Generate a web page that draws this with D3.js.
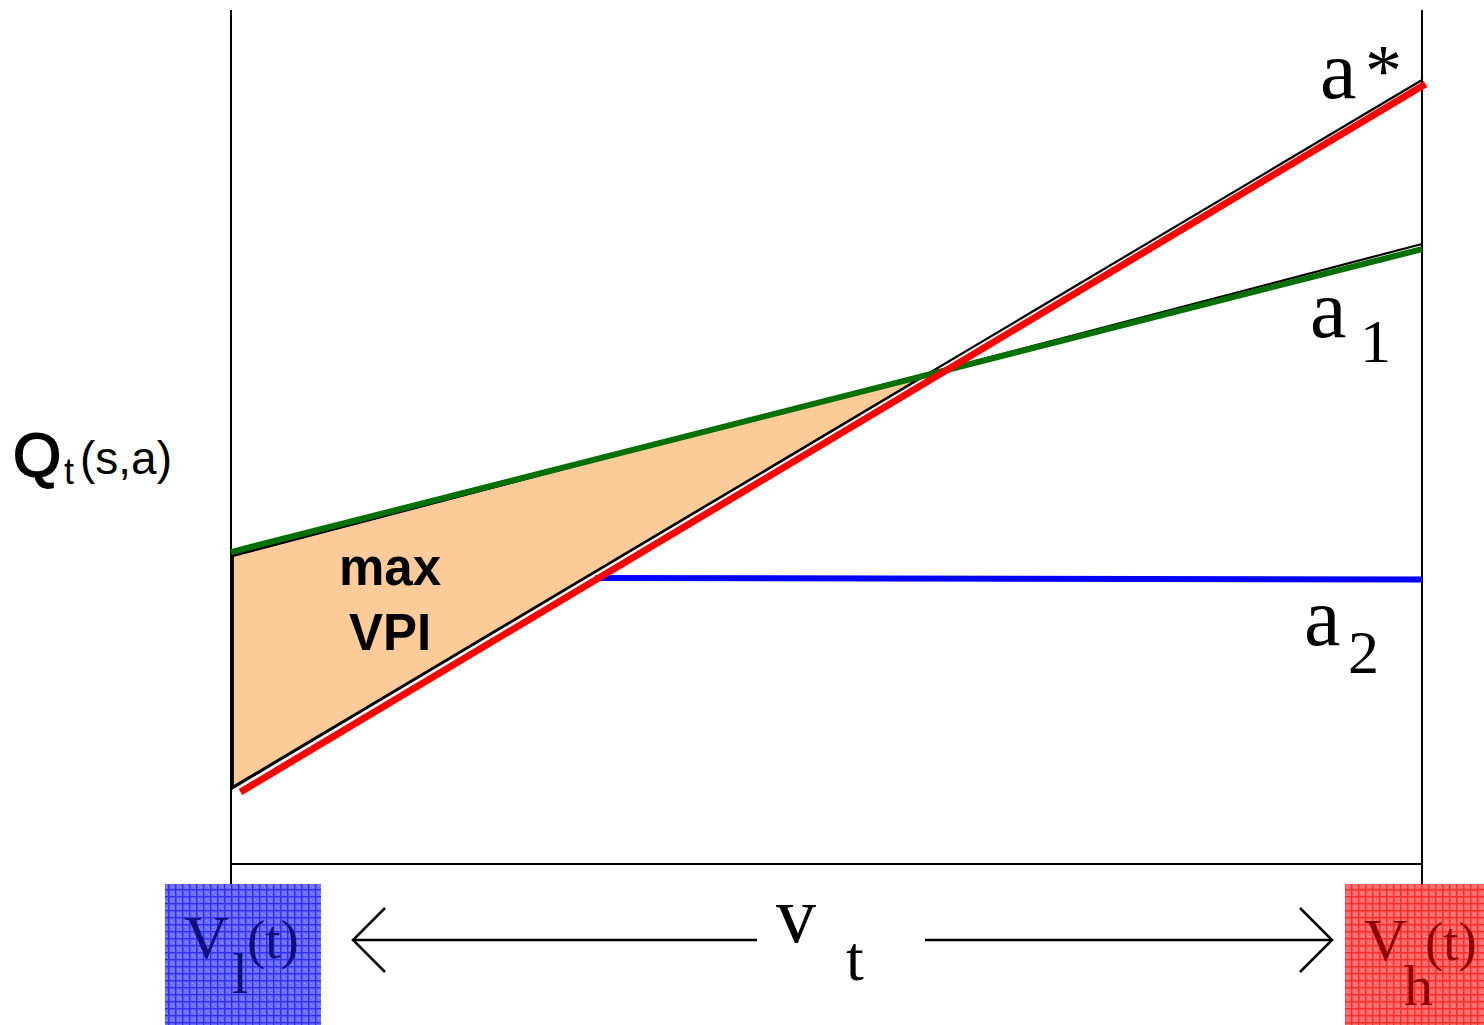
<!DOCTYPE html>
<html>
<head>
<meta charset="utf-8">
<script src="https://cdn.jsdelivr.net/npm/d3@7"></script>
<style>
  html, body { margin: 0; padding: 0; background: #fff; }
  svg { display: block; }
  .serif { font-family: "Liberation Serif", "Times New Roman", serif; }
  .sans { font-family: "Liberation Sans", Arial, Helvetica, sans-serif; }
</style>
</head>
<body>
<svg id="chart" width="1484" height="1025"></svg>
<script>
// Value of information: Q-values of three actions as the state value v_t
// ranges from its lower bound V_l(t) to its upper bound V_h(t).

// Series (x in percent of the v_t range, y in percent of the Q range)
const aStarX = [0.8, 100.3];
const aStarY = [8.43, 91.33];
const a1X = [0, 100];
const a1Y = [36.53, 72.0];
const a2X = [30.6, 100];
const a2Y = [33.5, 33.3];

// Outline edges bounding the max-VPI region
const aStarEdgeX = [0, 100];
const aStarEdgeY = [8.9, 91.8];
const a1EdgeX = [0, 100];
const a1EdgeY = [36.07, 72.6];

const W = 1484, H = 1025;
const plotLeft = 231, plotRight = 1422, plotTop = 10, plotBase = 864;

const x = d3.scaleLinear().domain([0, 100]).range([plotLeft, plotRight]);
const y = d3.scaleLinear().domain([0, 100]).range([plotBase, plotTop]);

const svg = d3.select("#chart");
svg.append("rect").attr("width", W).attr("height", H).attr("fill", "#fff");

const defs = svg.append("defs");
function gridPattern(id, bg, ln, dot) {
  const p = defs.append("pattern").attr("id", id)
    .attr("patternUnits", "userSpaceOnUse").attr("width", 7).attr("height", 7);
  p.append("rect").attr("width", 7).attr("height", 7).attr("fill", bg);
  p.append("rect").attr("x", 0).attr("y", 0).attr("width", 7).attr("height", 1.4).attr("fill", ln);
  p.append("rect").attr("x", 0).attr("y", 0).attr("width", 1.4).attr("height", 7).attr("fill", ln);
  p.append("rect").attr("x", 3).attr("y", 3).attr("width", 1).attr("height", 1).attr("fill", dot);
  p.append("rect").attr("x", 5).attr("y", 5).attr("width", 1).attr("height", 1).attr("fill", dot);
}
gridPattern("gridBlue", "#6f6fff", "#2f2ff5", "#9c9cff");
gridPattern("gridRed", "#ff6a6a", "#ff2a2a", "#ff9a9a");

const line = d3.line().x(d => x(d[0])).y(d => y(d[1]));
const pts = (xs, ys) => xs.map((v, i) => [v, ys[i]]);

// Crossing point of the two outline edges
function lineAt(xs, ys, v) {
  const t = (v - xs[0]) / (xs[1] - xs[0]);
  return ys[0] + t * (ys[1] - ys[0]);
}
const sS = (aStarEdgeY[1] - aStarEdgeY[0]) / (aStarEdgeX[1] - aStarEdgeX[0]);
const s1 = (a1EdgeY[1] - a1EdgeY[0]) / (a1EdgeX[1] - a1EdgeX[0]);
const cx = (a1EdgeY[0] - aStarEdgeY[0]) / (sS - s1);
const cy = lineAt(a1EdgeX, a1EdgeY, cx);

// Shaded max-VPI region
const region = [[0.15, a1EdgeY[0]], [cx, cy], [0.15, aStarEdgeY[0]]];
svg.append("path")
  .attr("d", line(region) + "Z")
  .attr("fill", "#fccb99")
  .attr("stroke", "#000")
  .attr("stroke-width", 2.2)
  .attr("stroke-linejoin", "miter");

// Axes frame
svg.append("line").attr("x1", x(0)).attr("x2", x(0)).attr("y1", plotTop).attr("y2", 885)
  .attr("stroke", "#000").attr("stroke-width", 2);
svg.append("line").attr("x1", x(100)).attr("x2", x(100)).attr("y1", plotTop).attr("y2", 885)
  .attr("stroke", "#000").attr("stroke-width", 2);
svg.append("line").attr("x1", x(0)).attr("x2", x(100)).attr("y1", y(0)).attr("y2", y(0))
  .attr("stroke", "#000").attr("stroke-width", 2);

// Thin black edges along a* and a1
svg.append("path").attr("d", line(pts(aStarEdgeX, aStarEdgeY)))
  .attr("stroke", "#000").attr("stroke-width", 2.2).attr("fill", "none");
svg.append("path").attr("d", line(pts(a1EdgeX, a1EdgeY)))
  .attr("stroke", "#000").attr("stroke-width", 2.2).attr("fill", "none");

// Action value lines
svg.append("path").attr("d", line(pts(a2X, a2Y)))
  .attr("stroke", "#0000ff").attr("stroke-width", 6).attr("fill", "none");
svg.append("path").attr("d", line(pts(a1X, a1Y)))
  .attr("stroke", "#007000").attr("stroke-width", 6).attr("fill", "none");
svg.append("path").attr("d", line(pts(aStarX, aStarY)))
  .attr("stroke", "#ff0000").attr("stroke-width", 7).attr("fill", "none");

// Text helper
function label(parts) {
  parts.forEach(p => {
    svg.append("text").attr("class", p.cls || "serif")
      .attr("x", p.x).attr("y", p.y)
      .attr("font-size", p.size)
      .attr("font-weight", p.weight || "normal")
      .attr("fill", p.fill || "#000")
      .attr("stroke", p.stroke || "none")
      .attr("stroke-width", p.sw || 0)
      .text(p.t);
  });
}

// Line labels
label([
  { t: "a", x: 1320, y: 98, size: 82 },
  { t: "*", x: 1365, y: 96, size: 74 },
  { t: "a", x: 1310, y: 337, size: 82 },
  { t: "1", x: 1360, y: 362, size: 62 },
  { t: "a", x: 1304, y: 645, size: 82 },
  { t: "2", x: 1348, y: 673, size: 62 }
]);

// Y axis title
label([
  { t: "Q", x: 13, y: 476, size: 62, cls: "sans", stroke: "#000", sw: 1.8 },
  { t: "t", x: 64, y: 484, size: 36, cls: "sans" },
  { t: "(s,a)", x: 80, y: 474, size: 46, cls: "sans" }
]);

// Region label
svg.append("text").attr("class", "sans").attr("x", 390).attr("y", 585)
  .attr("text-anchor", "middle").attr("font-size", 51).attr("font-weight", "bold").text("max");
svg.append("text").attr("class", "sans").attr("x", 390).attr("y", 650)
  .attr("text-anchor", "middle").attr("font-size", 51).attr("font-weight", "bold").text("VPI");

// Bound boxes
svg.append("rect").attr("x", 165).attr("y", 884).attr("width", 156).attr("height", 141)
  .attr("fill", "url(#gridBlue)");
svg.append("rect").attr("x", 1345).attr("y", 884).attr("width", 139).attr("height", 141)
  .attr("fill", "url(#gridRed)");

label([
  { t: "V", x: 184, y: 958, size: 62, fill: "#10107a" },
  { t: "l", x: 232, y: 993, size: 58, fill: "#10107a" },
  { t: "(t)", x: 247, y: 958, size: 55, fill: "#10107a" },
  { t: "V", x: 1364, y: 960, size: 60, fill: "#8e0000" },
  { t: "h", x: 1404, y: 1005, size: 58, fill: "#8e0000" },
  { t: "(t)", x: 1425, y: 960, size: 55, fill: "#8e0000" }
]);

// v_t range arrow
const ay = 940;
const arrow = svg.append("g").attr("stroke", "#000").attr("stroke-width", 2.5).attr("fill", "none");
arrow.append("line").attr("x1", 353).attr("x2", 757).attr("y1", ay).attr("y2", ay);
arrow.append("line").attr("x1", 925).attr("x2", 1332).attr("y1", ay).attr("y2", ay);
arrow.append("path").attr("d", `M385,908 L353,${ay} L385,972`);
arrow.append("path").attr("d", `M1300,908 L1332,${ay} L1300,972`);
label([
  { t: "v", x: 776, y: 942, size: 80 },
  { t: "t", x: 846, y: 980, size: 64 }
]);
</script>
</body>
</html>
